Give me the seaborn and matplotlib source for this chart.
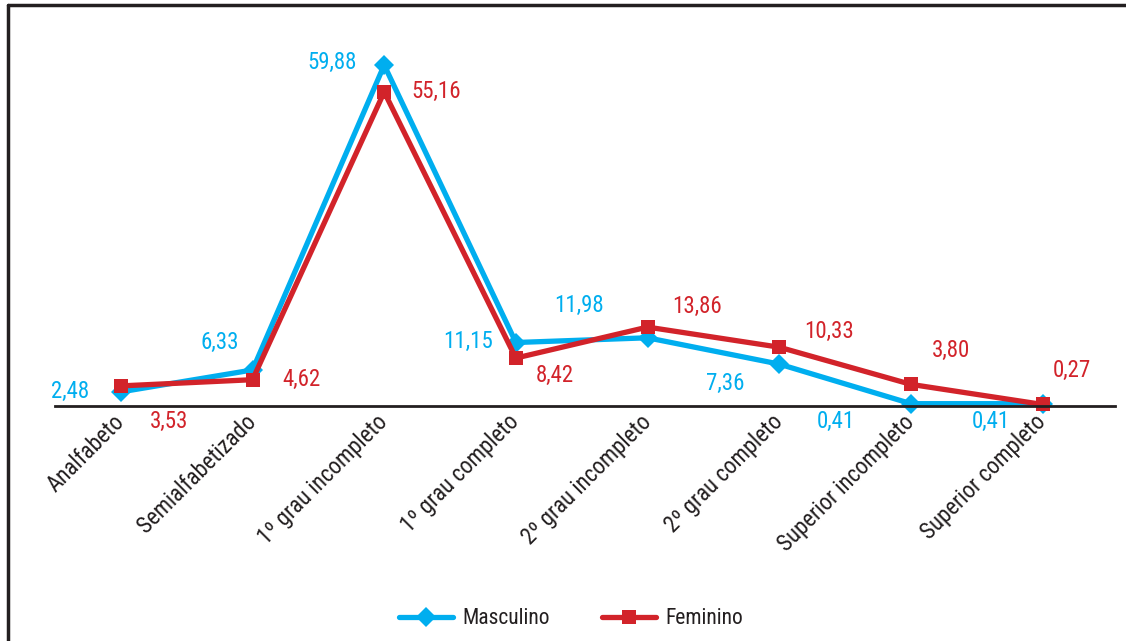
import matplotlib
matplotlib.use("Agg")
import matplotlib.pyplot as plt
from matplotlib import font_manager as fm
from matplotlib.lines import Line2D
from matplotlib.transforms import ScaledTranslation
import pandas as pd
import seaborn as sns

# Escolaridade por sexo (%)
categorias = ["Analfabeto", "Semialfabetizado", "1º grau incompleto", "1º grau completo",
              "2º grau incompleto", "2º grau completo", "Superior incompleto", "Superior completo"]
masculino = [2.48, 6.33, 59.88, 11.15, 11.98, 7.36, 0.41, 0.41]
feminino = [3.53, 4.62, 55.16, 8.42, 13.86, 10.33, 3.80, 0.27]

# label offsets (pixels) relative to each point
off_masc = [(-51, 0), (-33, 27), (-52, 3), (-48, 1), (-69, 32), (-54, -19), (-75, -18), (-52, -18)]
off_fem = [(48, -36), (49, 0), (52, 0), (39, -17), (50, 21), (50, 16), (40, 34), (29, 34)]

AZUL = "#00AEEF"
VERMELHO = "#D2232A"
ESCURO = "#231F20"


def fonte_estreita():
    """Pick a narrow/condensed regular face if one is installed."""
    melhores = []
    for f in fm.fontManager.ttflist:
        if f.style != "normal" or f.weight not in (400, "normal", "regular"):
            continue
        nome = f.name.lower()
        estreita = ("narrow" in nome or "condensed" in nome
                    or f.stretch in ("condensed", "semi-condensed", "extra-condensed",
                                     "ultra-condensed"))
        if not estreita:
            continue
        prio = 0 if "liberation" in nome else (1 if "roboto" in nome else 2)
        melhores.append((prio, f.fname))
    if melhores:
        melhores.sort()
        return fm.FontProperties(fname=melhores[0][1]), True
    return fm.FontProperties(family="Roboto"), False


sns.set_theme(style="white")
fonte, estreita = fonte_estreita()
escala = 1.0 if estreita else 0.85

df = pd.DataFrame({
    "categoria": categorias * 2,
    "valor": masculino + feminino,
    "sexo": ["Masculino"] * len(categorias) + ["Feminino"] * len(categorias),
})

W, H = 1126, 641
fig = plt.figure(figsize=(W / 100, H / 100), dpi=100)
ax = fig.add_axes([55 / W, (H - 406) / H, (1115 - 55) / W, (406 - 20) / H])

sns.lineplot(
    data=df, x="categoria", y="valor", hue="sexo", style="sexo",
    hue_order=["Masculino", "Feminino"],
    palette={"Masculino": AZUL, "Feminino": VERMELHO},
    markers={"Masculino": "D", "Feminino": "s"},
    dashes=False, sort=False, linewidth=3.8, markersize=10,
    markeredgewidth=0, ax=ax,
)

for line in ax.lines:
    line.set_clip_on(False)

ax.set_xlim(-0.5, 7.55)
ax.set_ylim(0, 67.8)
ax.set_xlabel("")
ax.set_ylabel("")
ax.set_yticks([])
ax.set_xticks(range(len(categorias)))
ax.set_xticklabels(categorias, rotation=45, ha="right", va="center",
                   rotation_mode="anchor", color=ESCURO)
deslocamento = ScaledTranslation(6 / 100, -1 / 100, fig.dpi_scale_trans)
for t in ax.get_xticklabels():
    t.set_fontproperties(fonte)
    t.set_fontsize(16.5 * escala)
    t.set_transform(t.get_transform() + deslocamento)
ax.tick_params(axis="x", length=0, pad=9)
for s in ["top", "left", "right"]:
    ax.spines[s].set_visible(False)
ax.spines["bottom"].set_color(ESCURO)
ax.spines["bottom"].set_linewidth(2)
ax.set_facecolor("none")

for i in range(len(categorias)):
    ax.annotate(f"{masculino[i]:.2f}".replace(".", ","), (i, masculino[i]),
                xytext=off_masc[i], textcoords="offset pixels",
                ha="center", va="center", fontproperties=fonte,
                fontsize=16.5 * escala, color=AZUL)
    ax.annotate(f"{feminino[i]:.2f}".replace(".", ","), (i, feminino[i]),
                xytext=off_fem[i], textcoords="offset pixels",
                ha="center", va="center", fontproperties=fonte,
                fontsize=16.5 * escala, color=VERMELHO)

ax.get_legend().remove()
handles = [
    Line2D([], [], color=AZUL, lw=3.8, marker="D", markersize=10, markeredgewidth=0),
    Line2D([], [], color=VERMELHO, lw=3.8, marker="s", markersize=10, markeredgewidth=0),
]
prop_leg = fonte.copy()
prop_leg.set_size(15.5 * escala)
fig.legend(handles, ["Masculino", "Feminino"], loc="center", ncol=2,
           bbox_to_anchor=(571 / W, (H - 619) / H), frameon=False,
           prop=prop_leg, handlelength=2.5, columnspacing=2.4, handletextpad=0.45,
           labelcolor=ESCURO)

# outer frame: left and top rules
fig.add_artist(Line2D([8 / W, 8 / W], [0, (H - 5) / H], color=ESCURO, lw=2.5,
                      transform=fig.transFigure))
fig.add_artist(Line2D([8 / W, 1], [(H - 5) / H, (H - 5) / H], color=ESCURO, lw=2.5,
                      transform=fig.transFigure))

fig.savefig("out.png", dpi=100, facecolor="white")
